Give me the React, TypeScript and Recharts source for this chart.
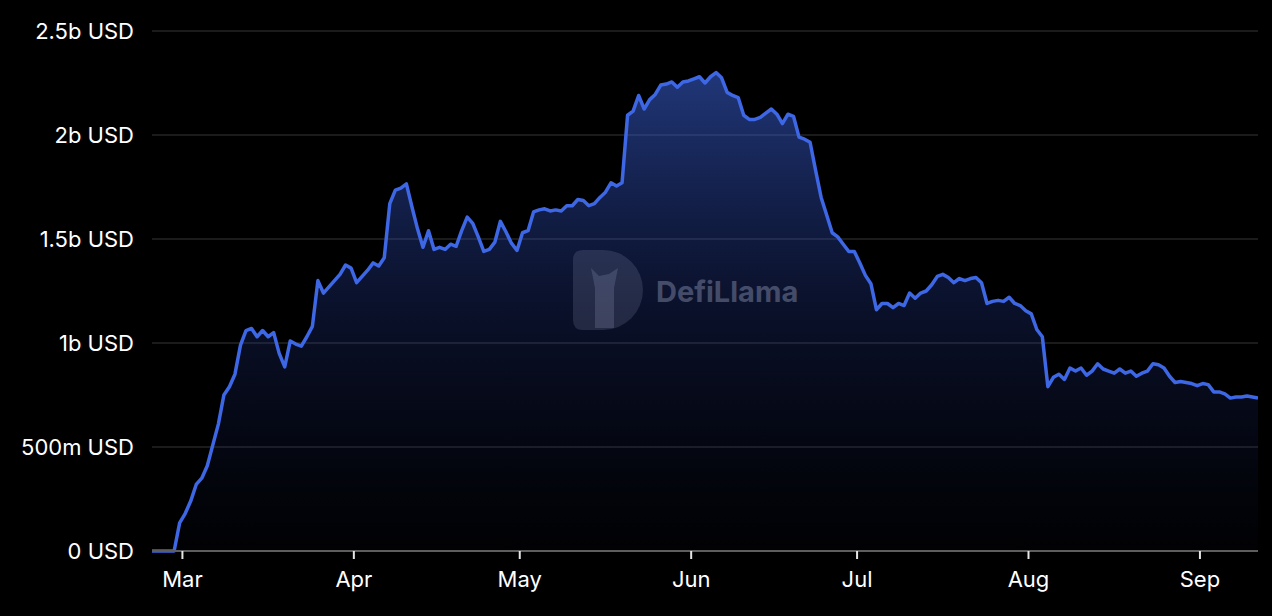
import React from "react";
import { AreaChart, Area, XAxis, YAxis, CartesianGrid } from "recharts";

// days counted from Mar 1; first point is Feb 23
const startDay = -6;

// TVL in billions USD, one value per day (Feb 23 .. Sep 11)
const tvlBillions = [
  // Feb 23 - Feb 28
  0, 0, 0, 0, 0, 0.135,
  // Mar
  0.18, 0.24, 0.32, 0.35, 0.41, 0.51, 0.61, 0.75, 0.79, 0.85,
  0.99, 1.06, 1.07, 1.03, 1.06, 1.03, 1.05, 0.95, 0.885, 1.01,
  0.995, 0.985, 1.03, 1.08, 1.3, 1.24, 1.27, 1.3, 1.33, 1.375, 1.36,
  // Apr
  1.29, 1.32, 1.35, 1.385, 1.37, 1.41, 1.67, 1.735, 1.745, 1.765,
  1.655, 1.55, 1.46, 1.54, 1.45, 1.46, 1.45, 1.475, 1.465, 1.54,
  1.605, 1.575, 1.51, 1.44, 1.45, 1.485, 1.585, 1.535, 1.48, 1.445,
  // May
  1.53, 1.54, 1.63, 1.64, 1.645, 1.635, 1.64, 1.635, 1.66, 1.66,
  1.69, 1.685, 1.66, 1.67, 1.7, 1.725, 1.77, 1.755, 1.77, 2.095,
  2.115, 2.19, 2.125, 2.17, 2.195, 2.24, 2.245, 2.255, 2.23, 2.255, 2.26,
  // Jun
  2.27, 2.28, 2.25, 2.28, 2.3, 2.275, 2.205, 2.19, 2.18, 2.095,
  2.075, 2.075, 2.085, 2.105, 2.125, 2.1, 2.055, 2.1, 2.09, 1.99,
  1.98, 1.965, 1.83, 1.7, 1.615, 1.53, 1.51, 1.475, 1.44, 1.44,
  // Jul
  1.385, 1.325, 1.285, 1.16, 1.19, 1.19, 1.17, 1.19, 1.18, 1.24,
  1.215, 1.24, 1.25, 1.28, 1.32, 1.33, 1.315, 1.29, 1.31, 1.3,
  1.31, 1.315, 1.29, 1.19, 1.2, 1.205, 1.2, 1.22, 1.19, 1.18, 1.155,
  // Aug
  1.14, 1.065, 1.03, 0.79, 0.835, 0.85, 0.825, 0.88, 0.865, 0.88,
  0.845, 0.865, 0.9, 0.875, 0.865, 0.855, 0.875, 0.855, 0.865, 0.84,
  0.855, 0.865, 0.9, 0.895, 0.88, 0.84, 0.81, 0.815, 0.81, 0.805, 0.795,
  // Sep
  0.805, 0.8, 0.765, 0.765, 0.755, 0.735, 0.74, 0.74, 0.745, 0.74, 0.735,
];

const monthTicks = [0, 31, 61, 92, 122, 153, 184];
const monthLabels = ["Mar", "Apr", "May", "Jun", "Jul", "Aug", "Sep"];
const yTicks = [0, 0.5, 1, 1.5, 2, 2.5];
const yLabels = ["0 USD", "500m USD", "1b USD", "1.5b USD", "2b USD", "2.5b USD"];

const data = tvlBillions.map((v, i) => ({ day: startDay + i + 0.5, tvl: v }));

const font = "Inter, 'Liberation Sans', Arial, sans-serif";

function Watermark() {
  return (
    <svg
      width={250}
      height={90}
      style={{ position: "absolute", left: 568, top: 246, pointerEvents: "none" }}
    >
      <path
        d="M5 14 Q5 4 15 4 L35 4 A40 40 0 0 1 35 84 L15 84 Q5 84 5 74 Z"
        fill="#c8d0f0"
        opacity={0.14}
      />
      <path
        d="M27 82 L27 42 L23 22 L31 30 L41 28 L50 22 L46 42 L46 82 Z"
        fill="#c8d0f0"
        opacity={0.16}
      />
      <text
        x={88}
        y={56}
        fill="#c8d0f0"
        opacity={0.3}
        fontSize={29}
        fontWeight={700}
        fontFamily={font}
      >
        DefiLlama
      </text>
    </svg>
  );
}

export default function App() {
  return (
    <div
      style={{
        position: "fixed",
        left: 0,
        top: 0,
        width: 1272,
        height: 616,
        background: "#000",
        overflow: "hidden",
      }}
    >
      <AreaChart
        width={1272}
        height={616}
        data={data}
        margin={{ top: 31, right: 14, left: 0, bottom: 0 }}
      >
        <defs>
          <linearGradient id="tvlFill" x1="0" y1="0" x2="0" y2="1">
            <stop offset="0%" stopColor="#3d66e0" stopOpacity={0.9} />
            <stop offset="50%" stopColor="#243c98" stopOpacity={0.45} />
            <stop offset="100%" stopColor="#1a2a70" stopOpacity={0.05} />
          </linearGradient>
        </defs>
        <CartesianGrid vertical={false} stroke="#242424" strokeWidth={1.5} />
        <XAxis
          type="number"
          dataKey="day"
          domain={[-5.5, 194.5]}
          allowDataOverflow
          ticks={monthTicks}
          tickFormatter={(v: number) => monthLabels[monthTicks.indexOf(v)]}
          height={65}
          axisLine={{ stroke: "#5e5e5e", strokeWidth: 2 }}
          tickLine={{ stroke: "#e6e6e6", strokeWidth: 2 }}
          tickSize={8}
          tickMargin={12}
          tick={{ fill: "#fff", fontSize: 22, fontFamily: font }}
        />
        <YAxis
          domain={[0, 2.5]}
          ticks={yTicks}
          tickFormatter={(v: number) => yLabels[yTicks.indexOf(v)]}
          width={152}
          axisLine={false}
          tickLine={false}
          tickSize={0}
          tickMargin={18}
          tick={{ fill: "#fff", fontSize: 22, fontFamily: font }}
        />
        <Area
          type="linear"
          dataKey="tvl"
          stroke="#3d67e4"
          strokeWidth={3.5}
          strokeLinejoin="round"
          fill="url(#tvlFill)"
          dot={false}
          activeDot={false}
          isAnimationActive={false}
        />
      </AreaChart>
      <Watermark />
    </div>
  );
}
